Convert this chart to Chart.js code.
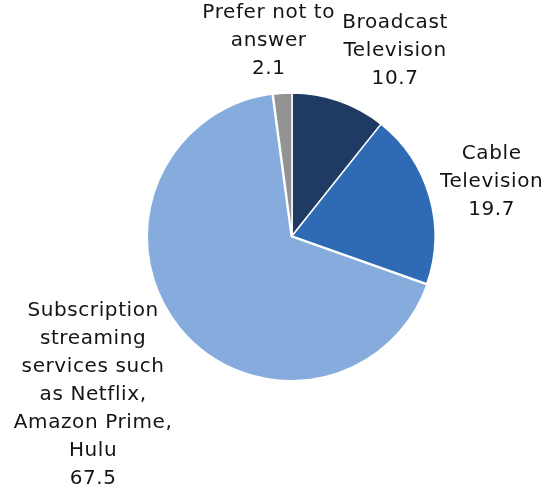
<!DOCTYPE html>
<html>
<head>
<meta charset="utf-8">
<script src="https://cdn.jsdelivr.net/npm/chart.js@4/dist/chart.umd.min.js"></script>
<style>
    html, body { margin: 0; padding: 0; background: #ffffff; }
    #wrap { width: 548px; height: 496px; position: relative; }
</style>
</head>
<body>
<div id="wrap"><canvas id="pieChart"></canvas></div>
<script>
// categorias y valores (porcentaje)
const categorias = [
    ['Broadcast', 'Television'],
    ['Cable', 'Television'],
    ['Subscription', 'streaming', 'services such', 'as Netflix,', 'Amazon Prime,', 'Hulu'],
    ['Prefer not to', 'answer']
];
const valores = [10.7, 19.7, 67.5, 2.1];
const colores = ['#1f3b64', '#2e6bb4', '#85acdc', '#939393'];

// etiquetas fuera del pastel, alineadas segun el angulo de cada rebanada
const etiquetasFuera = {
    id: 'etiquetasFuera',
    afterDatasetsDraw(chart) {
        const ctx = chart.ctx;
        const meta = chart.getDatasetMeta(0);
        ctx.save();
        ctx.font = '20px "DejaVu Sans"';
        ctx.letterSpacing = '0.6px';
        ctx.fillStyle = '#141414';
        ctx.textAlign = 'center';
        ctx.textBaseline = 'middle';
        const lineH = 28;
        meta.data.forEach((arc, i) => {
            const lineas = categorias[i].concat([valores[i].toFixed(1)]);
            const ang = (arc.startAngle + arc.endAngle) / 2;
            const r = arc.outerRadius + 11;
            const px = arc.x + Math.cos(ang) * r;
            const py = arc.y + Math.sin(ang) * r;
            let w = 0;
            lineas.forEach((t) => { w = Math.max(w, ctx.measureText(t).width); });
            const h = lineas.length * lineH;
            const fx = Math.max(-1, Math.min(1, Math.cos(ang) * 3));
            const fy = Math.sin(ang);
            const cx = px + fx * w / 2;
            const cy = py + fy * h / 2;
            lineas.forEach((t, k) => {
                ctx.fillText(t, cx, cy - h / 2 + lineH / 2 + k * lineH);
            });
        });
        ctx.restore();
    }
};

const ctx1 = document.getElementById('pieChart');
const chart1 = new Chart(ctx1, {
    type: 'pie',
    data: {
        labels: categorias.map((c) => c.join(' ')),
        datasets: [{
            data: valores,
            backgroundColor: colores,
            borderColor: '#ffffff',
            borderWidth: 1.5,
            offset: [0, 0, 4, 0]
        }]
    },
    options: {
        responsive: true,
        maintainAspectRatio: false,
        animation: false,
        radius: 143,
        layout: { padding: { left: 60, right: 24, top: 60, bottom: 84 } },
        plugins: {
            legend: { display: false },
            tooltip: { enabled: false }
        }
    },
    plugins: [etiquetasFuera]
});
</script>
</body>
</html>
